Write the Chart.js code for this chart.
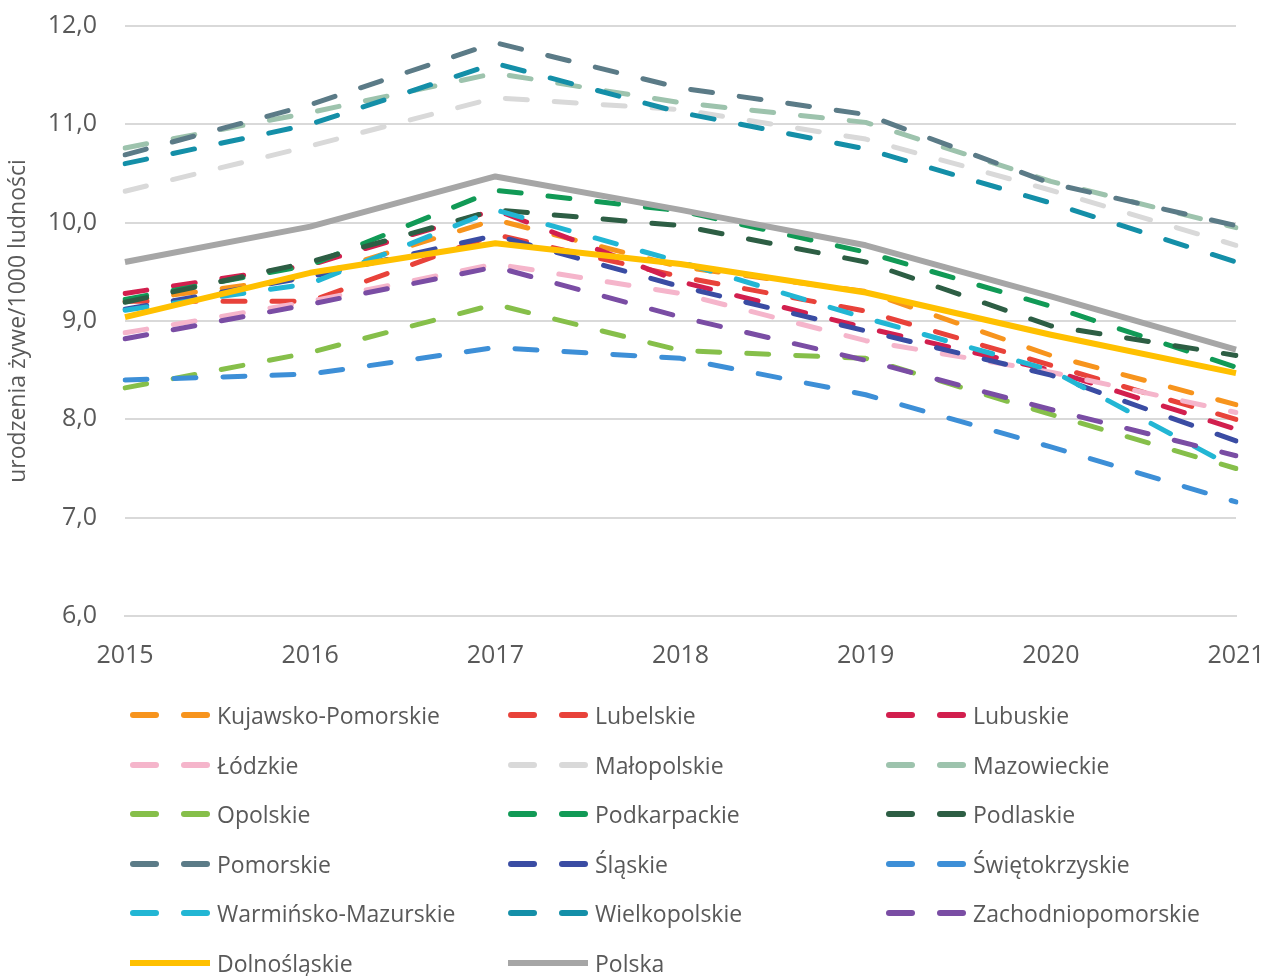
<!DOCTYPE html>
<html>
<head>
<meta charset="utf-8">
<script src="https://cdn.jsdelivr.net/npm/chart.js@4.4.1/dist/chart.umd.min.js"></script>
<style>
  body { margin: 0; background: #fff; font-family: "Open Sans", sans-serif; }
  #wrap { position: relative; width: 1263px; height: 976px; }
  #chartBox { position: absolute; left: 0; top: 0; width: 1263px; height: 690px; }
  #legend { position: absolute; left: 0; top: 0; width: 1263px; height: 976px; pointer-events: none; }
  .item { position: absolute; height: 30px; display: flex; align-items: center; color: #595959; font-size: 23px; white-space: nowrap; }
  .dash { position: absolute; top: 12px; height: 6px; border-radius: 3px; }
  .label { position: absolute; left: 87px; top: 0; line-height: 30px; }
</style>
</head>
<body>
<div id="wrap">
  <div id="chartBox"><canvas id="births"></canvas></div>
  <div id="legend"></div>
</div>
<script>
// years on the x axis
const years = ['2015', '2016', '2017', '2018', '2019', '2020', '2021'];

// live births per 1000 population
const kujawskoPomorskie  = [9.20, 9.45, 10.03, 9.55, 9.30, 8.65, 8.15];
const lubelskie          = [9.20, 9.20, 9.88, 9.45, 9.10, 8.55, 8.00];
const lubuskie           = [9.28, 9.57, 10.13, 9.40, 8.93, 8.50, 7.90];
const lodzkie            = [8.88, 9.20, 9.58, 9.28, 8.80, 8.48, 8.07];
const malopolskie        = [10.32, 10.78, 11.27, 11.15, 10.85, 10.33, 9.77];
const mazowieckie        = [10.76, 11.12, 11.52, 11.22, 11.02, 10.42, 9.95];
const opolskie           = [8.32, 8.68, 9.17, 8.70, 8.62, 8.05, 7.50];
const podkarpackie       = [9.22, 9.57, 10.33, 10.12, 9.70, 9.15, 8.53];
const podlaskie          = [9.19, 9.60, 10.13, 9.97, 9.60, 8.95, 8.65];
const pomorskie          = [10.69, 11.20, 11.83, 11.37, 11.10, 10.40, 9.97];
const slaskie            = [9.12, 9.45, 9.87, 9.35, 8.90, 8.45, 7.78];
const swietokrzyskie     = [8.40, 8.46, 8.73, 8.62, 8.25, 7.72, 7.16];
const warminskoMazurskie = [9.11, 9.38, 10.13, 9.60, 9.03, 8.50, 7.50];
const wielkopolskie      = [10.60, 11.00, 11.62, 11.12, 10.75, 10.20, 9.60];
const zachodniopomorskie = [8.82, 9.17, 9.55, 9.04, 8.60, 8.10, 7.63];
const dolnoslaskie       = [9.04, 9.49, 9.79, 9.58, 9.29, 8.86, 8.47];
const polska             = [9.60, 9.96, 10.47, 10.13, 9.77, 9.25, 8.71];

// y axis ticks
const yTicks = [6, 7, 8, 9, 10, 11, 12];

const series = [
    { name: 'Kujawsko-Pomorskie', data: kujawskoPomorskie, color: '#F7941D' },
    { name: 'Lubelskie', data: lubelskie, color: '#E8423A' },
    { name: 'Lubuskie', data: lubuskie, color: '#D21F4E' },
    { name: 'Łódzkie', data: lodzkie, color: '#F5B5CB' },
    { name: 'Małopolskie', data: malopolskie, color: '#D9D9D9' },
    { name: 'Mazowieckie', data: mazowieckie, color: '#9DC3AD' },
    { name: 'Opolskie', data: opolskie, color: '#86BF4A' },
    { name: 'Podkarpackie', data: podkarpackie, color: '#119A56' },
    { name: 'Podlaskie', data: podlaskie, color: '#2D5E44' },
    { name: 'Pomorskie', data: pomorskie, color: '#5B7B87' },
    { name: 'Śląskie', data: slaskie, color: '#3A4CA3' },
    { name: 'Świętokrzyskie', data: swietokrzyskie, color: '#3D8FD7' },
    { name: 'Warmińsko-Mazurskie', data: warminskoMazurskie, color: '#22B6D4' },
    { name: 'Wielkopolskie', data: wielkopolskie, color: '#148FA8' },
    { name: 'Zachodniopomorskie', data: zachodniopomorskie, color: '#7A4DA4' },
    { name: 'Dolnośląskie', data: dolnoslaskie, color: '#FFC000', solid: true },
    { name: 'Polska', data: polska, color: '#A6A6A6', solid: true }
];

const datasets = series.map((s, i) => ({
    label: s.name,
    data: s.data,
    borderColor: s.color,
    backgroundColor: s.color,
    borderWidth: s.solid ? 6 : 5,
    borderDash: s.solid ? [] : [22, 27],
    borderCapStyle: s.solid ? 'butt' : 'round',
    borderJoinStyle: 'round',
    tension: 0,
    pointRadius: 0,
    fill: false,
    order: series.length - i // later series drawn on top, like the original
}));

const ctx = document.getElementById('births').getContext('2d');
new Chart(ctx, {
    type: 'line',
    data: { labels: years, datasets: datasets },
    options: {
        responsive: true,
        maintainAspectRatio: false,
        animation: false,
        layout: { padding: { top: 26, right: 27, left: 0, bottom: 0 } },
        plugins: {
            legend: { display: false },
            tooltip: { enabled: false }
        },
        scales: {
            x: {
                grid: { display: false, drawTicks: false },
                border: { color: '#D9D9D9', width: 2 },
                ticks: { color: '#595959', font: { family: 'Open Sans', size: 25 }, padding: 25, maxRotation: 0, autoSkip: false },
                afterFit: (scale) => {
                    scale.height = 74;
                    // tick padding would otherwise push the plot in from the right
                    scale.paddingLeft = 0;
                    scale.paddingRight = 0;
                }
            },
            y: {
                min: 6,
                max: 12,
                afterBuildTicks: (scale) => { scale.ticks = yTicks.map(v => ({ value: v })); },
                grid: { color: '#D9D9D9', lineWidth: 2, drawTicks: false },
                border: { display: false },
                ticks: {
                    color: '#595959',
                    font: { family: 'Open Sans', size: 25 },
                    padding: 28,
                    callback: (v) => v.toFixed(1).replace('.', ',')
                },
                title: {
                    display: true,
                    text: 'urodzenia żywe/1000 ludności',
                    color: '#595959',
                    font: { family: 'Open Sans', size: 23 },
                    padding: { top: 5, bottom: 0 }
                },
                afterFit: (scale) => {
                    scale.width = 125;
                    scale.paddingTop = 0;
                    scale.paddingBottom = 0;
                }
            }
        }
    }
});

// legend in three columns, like the original
const legendEl = document.getElementById('legend');
const colX = [130, 508, 886];
const rowY = [715, 765, 814, 864, 913, 963];
series.forEach((s, i) => {
    const item = document.createElement('div');
    item.className = 'item';
    item.style.left = colX[i % 3] + 'px';
    item.style.top = (rowY[Math.floor(i / 3)] - 15) + 'px';
    if (s.solid) {
        const d = document.createElement('div');
        d.className = 'dash';
        d.style.left = '0px';
        d.style.width = '80px';
        d.style.borderRadius = '0';
        d.style.background = s.color;
        item.appendChild(d);
    } else {
        [0, 51].forEach(x => {
            const d = document.createElement('div');
            d.className = 'dash';
            d.style.left = x + 'px';
            d.style.width = '29px';
            d.style.background = s.color;
            item.appendChild(d);
        });
    }
    const t = document.createElement('span');
    t.className = 'label';
    t.textContent = s.name;
    item.appendChild(t);
    legendEl.appendChild(item);
});
</script>
</body>
</html>
